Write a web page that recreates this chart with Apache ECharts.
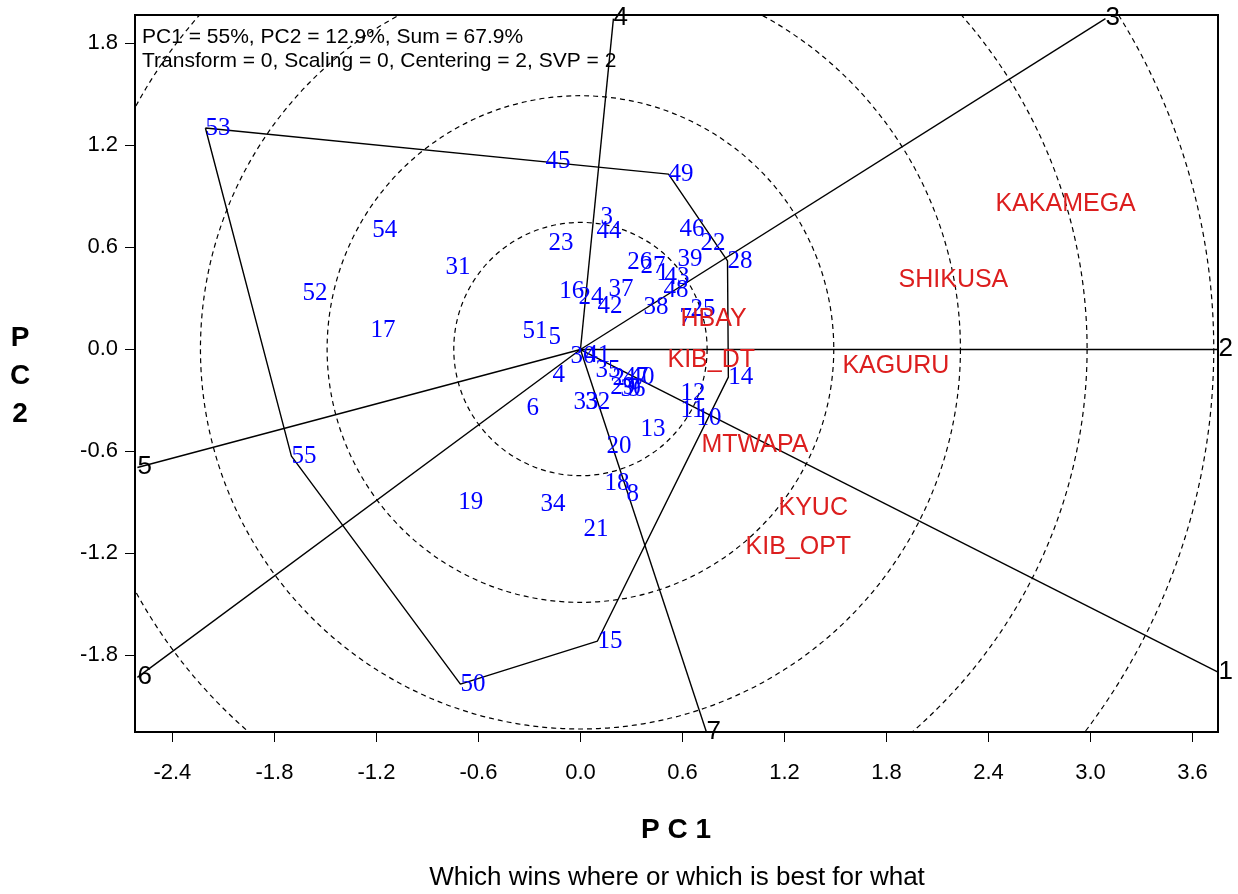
<!DOCTYPE html>
<html><head><meta charset="utf-8">
<script src="https://cdn.jsdelivr.net/npm/echarts@6/dist/echarts.min.js"></script>
<style>html,body{margin:0;padding:0;background:#fff}#c{width:1238px;height:894px}</style>
</head><body><div id="c"></div>
<script>
// Genotype scores (PC1, PC2)
const genoNames = ['53','45','49','3','44','46','22','23','54','31','26','27','39','28','52','1','43','16','24','42','37','48','38','25','7','17','51','5','30','41','14','4','35','2','47','40','29','9','36','12','6','33','32','11','10','13','20','55','18','8','19','34','21','15','50'];
const genoX = [-2.206,-0.206,0.518,0.118,0.094,0.582,0.706,-0.188,-1.224,-0.794,0.276,0.353,0.571,0.865,-1.635,0.447,0.494,-0.124,-0.012,0.100,0.165,0.488,0.371,0.647,0.582,-1.235,-0.341,-0.188,-0.059,0.029,0.870,-0.165,0.088,0.188,0.253,0.288,0.176,0.282,0.235,0.588,-0.318,-0.041,0.029,0.588,0.682,0.353,0.153,-1.700,0.141,0.271,-0.718,-0.235,0.018,0.100,-0.706];
const genoY = [1.300,1.106,1.029,0.776,0.694,0.706,0.624,0.624,0.700,0.482,0.512,0.488,0.529,0.518,0.329,0.447,0.424,0.341,0.306,0.253,0.353,0.347,0.247,0.235,0.182,0.112,0.106,0.071,-0.041,-0.035,-0.165,-0.153,-0.124,-0.171,-0.165,-0.165,-0.224,-0.235,-0.235,-0.259,-0.347,-0.312,-0.312,-0.359,-0.406,-0.476,-0.576,-0.630,-0.788,-0.853,-0.900,-0.912,-1.059,-1.718,-1.971];
// Environment scores
const envNames = ['KAKAMEGA','SHIKUSA','HBAY','KIB_DT','KAGURU','MTWAPA','KYUC','KIB_OPT'];
const envX = [2.441,1.871,0.588,0.512,1.541,0.712,1.165,0.971];
const envY = [0.853,0.406,0.176,-0.065,-0.100,-0.565,-0.935,-1.165];
// Polygon vertices (genotypes) in order
const hullOrder = ['53','49','28','14','15','50','55'];
// Sector rays: end points
const rayNames = ['1','2','3','4','5','6','7'];
const rayX = [3.753,3.753,3.088,0.194,-2.606,-2.606,0.741];
const rayY = [-1.900,0.000,1.947,1.947,-0.694,-1.929,-2.250];
// Concentric circle radii
const circleRadii = [0.745,1.490,2.235,2.980,3.725];
// Tick values
const xTicks = [-2.4,-1.8,-1.2,-0.6,0.0,0.6,1.2,1.8,2.4,3.0,3.6];
const yTicks = [-1.8,-1.2,-0.6,0.0,0.6,1.2,1.8];

const fmt = v => (Math.abs(v) < 1e-9 ? '0.0' : v.toFixed(1));
const hullData = hullOrder.concat([hullOrder[0]]).map(n => { const i = genoNames.indexOf(n); return [genoX[i], genoY[i]]; });

const chart = echarts.init(document.getElementById('c'), null, {renderer: 'canvas'});
chart.setOption({
  animation: false,
  backgroundColor: '#fff',
  grid: {left: 135, right: 20, top: 15, bottom: 162, show: true, borderColor: '#000', borderWidth: 2, backgroundColor: 'transparent'},
  xAxis: {
    type: 'value', min: -2.62, max: 3.75,
    axisLine: {show: true, onZero: false, lineStyle: {color: '#000', width: 2}},
    axisTick: {show: true, customValues: xTicks, length: 10, inside: false, lineStyle: {color: '#000', width: 1}},
    axisLabel: {customValues: xTicks, formatter: fmt, color: '#000', fontSize: 22, fontFamily: 'Liberation Sans', margin: 30},
    splitLine: {show: false}
  },
  yAxis: {
    type: 'value', min: -2.253, max: 1.965,
    axisLine: {show: true, onZero: false, lineStyle: {color: '#000', width: 2}},
    axisTick: {show: true, customValues: yTicks, length: 10, inside: false, lineStyle: {color: '#000', width: 1}},
    axisLabel: {customValues: yTicks, formatter: fmt, color: '#000', fontSize: 22, fontFamily: 'Liberation Sans', margin: 17},
    splitLine: {show: false}
  },
  graphic: [
    {type: 'text', left: 142, top: 27, style: {text: 'PC1 = 55%, PC2 = 12.9%, Sum = 67.9%', fill: '#000', font: '21px "Liberation Sans"'}},
    {type: 'text', left: 142, top: 51, style: {text: 'Transform = 0, Scaling = 0, Centering = 2, SVP = 2', fill: '#000', font: '21px "Liberation Sans"'}},
    {type: 'text', x: 676, y: 830, style: {text: 'P C 1', fill: '#000', font: 'bold 28px "Liberation Sans"', align: 'center', verticalAlign: 'middle'}},
    {type: 'text', x: 20, y: 376, style: {text: 'P\nC\n2', fill: '#000', font: 'bold 28px "Liberation Sans"', align: 'center', verticalAlign: 'middle', lineHeight: 38}},
    {type: 'text', x: 677, y: 878, style: {text: 'Which wins where or which is best for what', fill: '#000', font: '26px "Liberation Sans"', align: 'center', verticalAlign: 'middle'}}
  ],
  series: [
    {
      type: 'custom', name: 'circles', silent: true, z: 1,
      data: circleRadii.map(r => [r, 0]),
      renderItem: (params, api) => {
        const c = api.coord([0, 0]);
        const rp = api.size([api.value(0), 0])[0];
        const cs = params.coordSys;
        return {type: 'group', clipPath: {type: 'rect', shape: {x: cs.x, y: cs.y, width: cs.width, height: cs.height}},
          children: [{type: 'circle', shape: {cx: c[0], cy: c[1], r: rp}, style: {fill: 'none', stroke: '#000', lineWidth: 1.2, lineDash: [5, 4]}}]};
      }
    },
    {
      type: 'custom', name: 'rays', silent: true, z: 2,
      data: rayNames.map((n, i) => [rayX[i], rayY[i]]),
      renderItem: (params, api) => {
        const o = api.coord([0, 0]);
        const e = api.coord([api.value(0), api.value(1)]);
        return {type: 'group', children: [
          {type: 'line', shape: {x1: o[0], y1: o[1] + 0.5, x2: e[0], y2: e[1] + 0.5}, style: {stroke: '#000', lineWidth: 1.4}},
          {type: 'text', x: e[0], y: e[1], style: {text: rayNames[params.dataIndex], fill: '#000', font: '26px "Liberation Sans"', align: 'left', verticalAlign: 'middle'}}
        ]};
      }
    },
    {
      type: 'line', name: 'hull', data: hullData, symbol: 'none', silent: true, z: 2,
      lineStyle: {color: '#000', width: 1.4, opacity: 1}
    },
    {
      type: 'scatter', name: 'genotypes', symbolSize: 0, silent: true, z: 3,
      itemStyle: {opacity: 1},
      data: genoNames.map((n, i) => ({name: n, value: [genoX[i], genoY[i]]})),
      label: {show: true, position: 'right', distance: 0, formatter: '{b}', color: '#0000ff', opacity: 1, fontSize: 25, fontFamily: 'Liberation Serif'}
    },
    {
      type: 'scatter', name: 'environments', symbolSize: 0, silent: true, z: 4,
      itemStyle: {opacity: 1},
      data: envNames.map((n, i) => ({name: n, value: [envX[i], envY[i]]})),
      label: {show: true, position: 'right', distance: 0, formatter: '{b}', color: '#dc1e1e', opacity: 1, fontSize: 25, fontFamily: 'Liberation Sans'}
    }
  ]
});
</script>
</body></html>
